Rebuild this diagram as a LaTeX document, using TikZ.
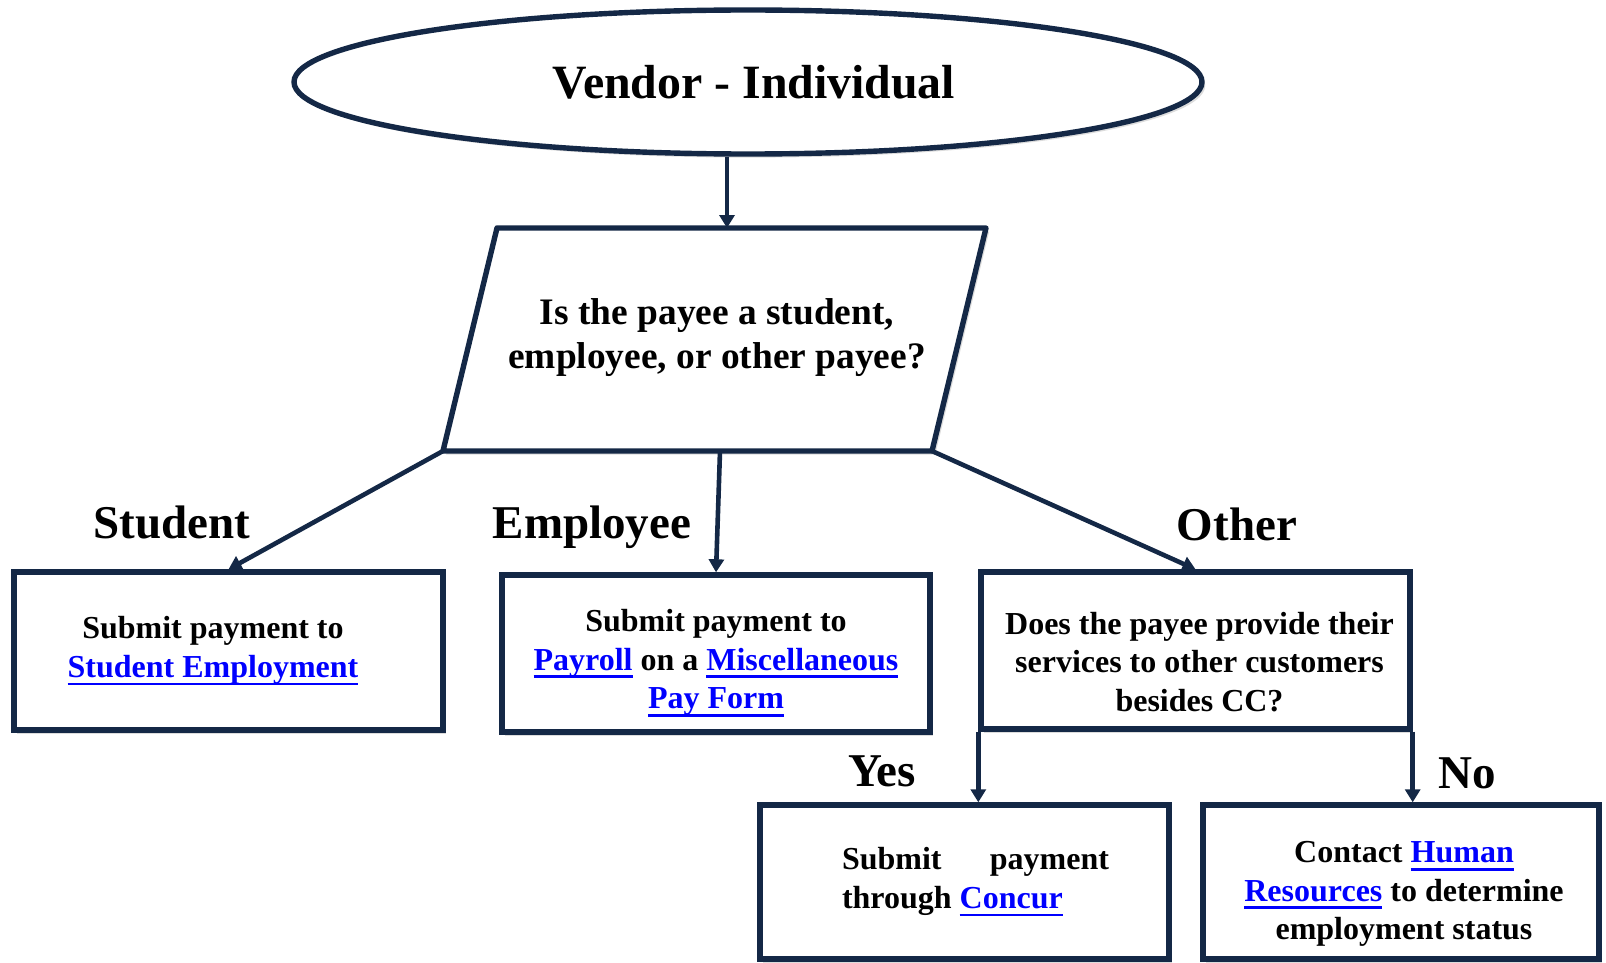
\documentclass[tikz,border=0pt]{standalone}
\usepackage{fontspec}
\setmainfont{Liberation Serif}
\usetikzlibrary{shapes.geometric,arrows.meta,shadows,calc}
\definecolor{navy}{HTML}{142846}
\definecolor{linkblue}{HTML}{0000FF}
\newsavebox{\lnkbox}
\newcommand{\lnk}[1]{{\color{linkblue}\sbox{\lnkbox}{#1}\rlap{\rule[-4pt]{\wd\lnkbox}{1.4pt}}\usebox{\lnkbox}}}
\begin{document}
\begin{tikzpicture}[x=0.5pt,y=-0.5pt,
  shd/.style={drop shadow={shadow xshift=1.6pt,shadow yshift=-1.8pt,opacity=0.3,fill=black!45}},
  box/.style={draw=navy,line width=2.7pt,fill=white,rectangle,shd},
  btxt/.style={align=center,font=\bfseries\fontsize{16}{19.2}\selectfont},
  conn/.style={draw=navy,line width=2.3pt,-{Triangle[length=6.5pt,width=7.5pt]}},
  lbl/.style={font=\bfseries\fontsize{23.5}{28}\selectfont}]
\fill[white] (0,0) rectangle (1606,963);
\useasboundingbox (0,0) rectangle (1606,963);

% top ellipse
\node[draw=navy,line width=2.7pt,ellipse,fill=white,shd,minimum width=454pt,minimum height=72pt] (ell) at (748,82) {};
\node[font=\bfseries\fontsize{23.9}{28}\selectfont] (ellT) at (754,82) {Vendor - Individual};

% decision parallelogram
\coordinate (pTL) at (497,228);
\coordinate (pTR) at (986,228);
\coordinate (pBR) at (932,451);
\coordinate (pBL) at (443,451);
\coordinate (pT) at (727,228);
\coordinate (pE) at (720,451);
\draw[navy,line width=2.7pt,fill=white,line join=round,shd] (pTL) -- (pTR) -- (pBR) -- (pBL) -- cycle;
\node[align=center,font=\bfseries\fontsize{18.7}{22}\selectfont] (q) at (717,338)
  {Is the payee a student,\\employee, or other payee?};

% boxes
\node[box,minimum width=214.5pt,minimum height=79pt] (stud) at (228.5,651) {};
\node[box,minimum width=214pt,minimum height=78.5pt] (emp) at (716,653.5) {};
\node[box,minimum width=214.5pt,minimum height=78.5pt] (oth) at (1195.5,650.5) {};
\node[box,minimum width=204.5pt,minimum height=77pt] (yes) at (964.5,882) {};
\node[box,minimum width=198pt,minimum height=77pt] (no) at (1401,882) {};

% box texts
\node[btxt] (studT) at (213,651) {Submit payment to\\\lnk{Student Employment}};
\node[btxt] (empT) at (716,663) {Submit payment to\\\lnk{Payroll} on a \lnk{Miscellaneous}\\\lnk{Pay Form}};
\node[btxt] (othT) at (1199.5,662) {Does the payee provide their\\services to other customers\\besides CC?};
\node[btxt,align=left] (yesT) at (975.5,882) {\makebox[133.5pt][s]{Submit\hfill payment}\\through \lnk{Concur}};
\node[btxt] (noT) at (1404,894) {Contact \lnk{Human}\\\lnk{Resources} to determine\\employment status};

% labels
\node[lbl] (lS) at (172,522) {Student};
\node[lbl] (lE) at (592,527) {Employee};
\node[lbl] (lO) at (1237,524) {Other};
\node[lbl] (lY) at (882,771) {Yes};
\node[lbl] (lN) at (1467,773) {No};

% connectors
\draw[conn] ([xshift=-10.5pt]ell.south) -- (pT);
\draw[conn] (pBL) -- (stud.north);
\draw[conn] (pE) -- (emp.north);
\draw[conn] (pBR) -- (oth.north);
\draw[conn] (oth.south west) -- (oth.south west |- yes.north);
\draw[conn] (oth.south east) -- (oth.south east |- no.north);
\end{tikzpicture}
\end{document}
